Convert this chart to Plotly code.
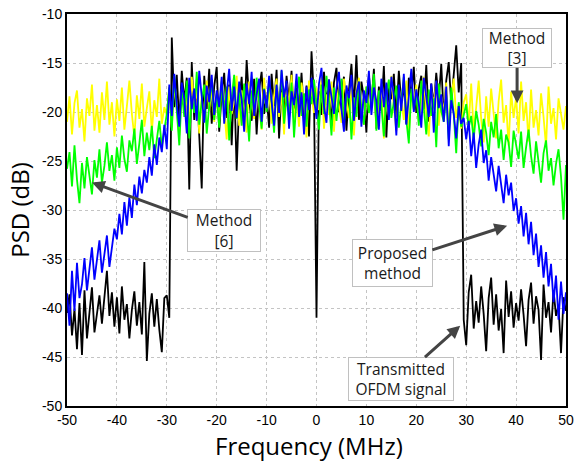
import plotly.graph_objects as go

freq = [round(-50 + 0.5 * i, 1) for i in range(201)]

tx_psd = [
    -40.5, -38.6, -42.8, -40.1, -44.2, -39.5, -44.8, -38.2, -43.1, -40.6,
    -37.9, -42.5, -40.3, -38.7, -41.6, -39.2, -36.2, -40.8, -38.4, -41.9,
    -38.9, -42.6, -37.8, -41.2, -39.6, -43.1, -40.2, -38.3, -41.8, -39.4,
    -42.7, -35.3, -45.4, -40.6, -38.5, -41.9, -39.1, -42.2, -44.5, -39.0,
    -38.7, -41.0,
    -12.4, -19.5, -16.2, -21.3, -15.8, -18.9, -16.5, -27.9, -14.9, -20.8,
    -17.1, -22.4, -27.8, -16.3, -19.7, -15.6, -21.2, -17.4, -15.4, -22.0,
    -18.1, -16.0, -20.6, -17.2, -23.4, -16.8, -26.0, -19.0, -16.4, -21.5,
    -14.7, -18.8, -20.9, -16.6, -22.3, -17.7, -15.9, -20.2, -18.3, -21.6,
    -16.1, -19.4, -15.7, -22.7, -17.6, -20.4, -16.3, -18.9, -15.8, -21.1,
    -17.5, -19.8, -16.0, -20.7, -17.3, -22.5, -13.8, -18.6, -41.0, -17.9,
    -20.3, -15.9, -19.2, -16.7, -21.4, -17.0, -15.5, -20.0, -18.2, -16.4,
    -21.9, -17.8, -15.1, -19.6, -14.2, -20.8, -16.9, -18.5, -22.1, -16.2,
    -19.3, -15.6, -21.7, -17.4, -19.9, -15.3, -22.6, -17.0, -18.7, -16.1,
    -20.5, -15.8, -19.1, -17.3, -21.2, -16.5, -18.4, -15.4, -20.1, -17.6,
    -16.3, -19.7, -15.2, -21.0, -17.1, -19.4, -16.0, -18.8, -15.1, -20.6,
    -16.8, -14.9, -19.2, -16.3, -13.2, -18.0, -15.0,
    -41.2, -43.8, -38.4, -36.6, -42.1, -39.3, -41.5, -37.8, -40.6, -44.4,
    -39.0, -36.9, -41.7, -38.6, -42.3, -40.1, -44.6, -37.2, -40.9, -38.3,
    -42.0, -39.5, -41.3, -38.1, -40.7, -43.9, -39.2, -37.4, -41.6, -38.8,
    -40.2, -45.3, -37.6, -41.0, -39.4, -42.5, -38.2, -40.8, -39.7, -44.6,
    -38.9, -40.3,
]

method3_psd = [
    -21.0, -18.4, -22.3, -19.1, -17.8, -21.6, -19.7, -23.0, -18.6, -20.4,
    -17.2, -21.9, -19.3, -22.1, -18.0, -20.8, -16.9, -21.3, -19.0, -22.5,
    -18.7, -20.9, -17.5, -21.8, -19.4, -16.8, -20.2, -22.6, -18.3, -20.7,
    -17.1, -21.5, -19.6, -17.9, -22.0, -18.8, -20.5, -16.6, -21.2, -19.5,
    -20.3, -17.4, -21.6, -16.9, -19.8, -22.4, -17.6, -20.1, -18.2, -21.9,
    -16.4, -19.3, -17.7, -22.2, -18.5, -20.6, -16.8, -19.9, -17.3, -21.0,
    -18.1, -20.8, -16.7, -19.5, -22.8, -17.4, -20.2, -18.9, -16.3, -21.4,
    -17.8, -19.6, -22.1, -16.9, -18.4, -20.7, -17.2, -19.1, -21.8, -16.5,
    -19.7, -17.6, -21.2, -18.3, -16.6, -20.5, -18.0, -22.3, -17.1, -19.4,
    -16.2, -20.9, -18.6, -21.5, -17.0, -19.0, -22.6, -16.8, -18.7, -20.1,
    -17.5, -19.8, -16.4, -21.7, -18.2, -20.3, -16.9, -22.0, -17.7, -19.2,
    -21.1, -16.6, -18.8, -20.6, -17.3, -22.4, -18.0, -16.5, -19.9, -21.3,
    -17.4, -20.0, -18.5, -16.7, -21.6, -19.0, -17.1, -22.7, -18.3, -20.4,
    -16.3, -19.5, -21.9, -17.6, -18.9, -20.8, -16.8, -22.2, -18.1, -19.7,
    -17.2, -21.0, -18.6, -16.4, -20.3, -22.5, -17.8, -19.3, -16.9, -21.4,
    -18.4, -20.1, -17.0, -22.1, -18.7, -16.6, -20.6, -19.2, -21.7, -19.0,
    -18.2, -21.3, -17.1, -22.0, -19.5, -16.8, -20.7, -23.1, -18.4, -21.5,
    -17.6, -20.2, -22.7, -18.9, -16.7, -21.1, -19.3, -23.4, -17.9, -20.6,
    -18.5, -22.2, -16.9, -20.9, -19.0, -23.0, -17.7, -21.6, -19.8, -22.4,
    -18.1, -20.5, -23.5, -17.4, -21.2, -19.6, -22.8, -18.6, -20.3, -21.8,
    -19.4,
]

method6_psd = [
    -25.8, -24.1, -27.6, -23.4, -26.9, -29.3, -25.2, -27.8, -24.6, -26.3,
    -28.4, -24.9, -26.7, -23.8, -27.2, -25.5, -23.1, -26.0, -24.4, -27.0,
    -23.6, -25.7, -22.4, -24.8, -26.1, -22.9, -24.0, -21.7, -25.3, -23.2,
    -20.8, -24.5, -22.1, -23.9, -21.4, -24.7, -22.6, -20.9, -23.5, -21.8,
    -20.2, -17.5, -21.9, -16.3, -19.6, -23.4, -17.9, -20.5, -16.8, -22.7,
    -18.4, -20.1, -15.9, -21.3, -18.9, -17.2, -22.2, -19.3, -16.6, -20.8,
    -18.2, -21.6, -16.9, -19.9, -17.4, -22.9, -18.6, -16.2, -20.7, -18.0,
    -21.4, -17.1, -19.5, -23.0, -17.8, -20.3, -16.5, -19.1, -21.7, -17.6,
    -20.0, -16.8, -18.9, -22.1, -17.3, -19.7, -15.8, -21.2, -18.4, -20.6,
    -17.0, -22.6, -18.7, -16.4, -20.4, -18.1, -21.5, -17.7, -19.2, -16.7,
    -19.4, -21.8, -17.2, -20.2, -16.3, -18.8, -22.4, -17.5, -20.9, -18.3,
    -16.6, -21.1, -19.0, -17.9, -22.8, -18.5, -20.5, -16.9, -19.6, -21.3,
    -17.4, -20.1, -18.7, -16.1, -21.9, -17.8, -19.3, -22.5, -18.2, -16.7,
    -20.6, -19.1, -17.3, -21.6, -18.9, -16.4, -20.8, -23.2, -17.6, -19.8,
    -18.0, -21.4, -16.8, -19.5, -22.3, -17.7, -20.4, -18.6, -23.6, -17.1,
    -19.9, -21.0, -18.3, -22.8, -17.5, -20.2, -24.2, -19.0, -21.5, -20.3,
    -19.2, -21.6, -20.4, -22.8, -19.9, -21.3, -23.5, -20.7, -22.1, -24.4,
    -21.0, -22.6, -20.2, -23.7, -21.8, -24.9, -22.3, -23.1, -25.6, -21.9,
    -23.4, -24.8, -22.0, -25.7, -23.6, -21.8, -24.5, -26.3, -23.0, -25.1,
    -27.2, -24.2, -22.9, -26.0, -24.7, -27.5, -25.3, -23.8, -26.6, -31.0,
    -25.4,
]

proposed_psd = [
    -38.5, -41.8, -36.2, -40.3, -35.4, -39.0, -37.6, -34.9, -38.2, -36.0,
    -33.8, -37.1, -35.2, -33.1, -36.4, -34.5, -32.6, -35.8, -33.7, -31.9,
    -33.0, -30.4, -32.5, -29.2, -31.6, -28.7, -30.8, -27.4, -29.5, -26.6,
    -28.3, -25.9, -27.2, -24.6, -26.5, -23.3, -25.4, -22.6, -24.1, -21.3,
    -23.8, -17.2, -20.4, -16.1, -19.3, -21.5, -17.0, -18.6, -22.2, -16.5,
    -19.7, -17.6, -20.9, -15.8, -18.4, -21.1, -17.3, -19.0, -16.2, -20.3,
    -17.8, -19.5, -16.4, -21.2, -18.1, -15.6, -19.9, -17.4, -20.6, -16.9,
    -18.7, -22.0, -17.1, -19.2, -15.9, -20.4, -18.2, -16.6, -21.0, -17.7,
    -19.6, -16.3, -18.9, -21.4, -17.2, -20.1, -15.7, -18.5, -16.8, -21.7,
    -17.9, -19.3, -16.1, -20.5, -18.0, -22.3, -17.4, -19.8, -16.5, -18.8,
    -20.7, -17.1, -15.5, -19.4, -21.1, -16.7, -18.3, -20.2, -17.6, -15.9,
    -19.7, -22.0, -17.3, -18.6, -16.2, -20.9, -18.1, -16.9, -21.5, -17.8,
    -19.1, -15.8, -20.3, -17.5, -18.9, -21.8, -16.6, -19.5, -17.0, -20.8,
    -16.4, -18.4, -22.4, -17.2, -19.9, -16.1, -21.3, -18.0, -15.6, -20.0,
    -17.7, -19.2, -21.6, -16.5, -18.6, -20.5, -17.1, -22.1, -16.8, -19.6,
    -18.2, -21.0, -17.4, -23.5, -18.8, -20.2, -22.7, -19.4, -21.2, -20.6,
    -22.8, -20.9, -24.5, -22.1, -25.7, -23.3, -21.8, -25.2, -23.9, -27.0,
    -24.6, -26.3, -28.1, -25.5, -27.6, -29.3, -26.4, -28.5, -27.2, -30.1,
    -28.8, -31.4, -29.6, -32.7, -30.3, -33.5, -31.2, -34.6, -32.4, -35.8,
    -33.6, -36.9, -34.3, -37.8, -35.5, -39.4, -36.7, -41.2, -37.3, -40.6,
    -38.4,
]

x_ticks = [-50, -40, -30, -20, -10, 0, 10, 20, 30, 40, 50]
y_ticks = [-50, -45, -40, -35, -30, -25, -20, -15, -10]

series = [
    ("Transmitted OFDM signal", tx_psd, "#000000"),
    ("Method [3]", method3_psd, "#ffff00"),
    ("Method [6]", method6_psd, "#00ff00"),
    ("Proposed method", proposed_psd, "#0000ff"),
]

fig = go.Figure()
for name, vals, col in series:
    fig.add_trace(go.Scatter(x=freq, y=vals, mode="lines", name=name,
                             line=dict(color=col, width=1.8), showlegend=False))

ann_font = dict(family="Open Sans, Noto Sans, sans-serif", size=15.5, color="#1a1a1a")
ann_common = dict(xref="x", yref="y", axref="x", ayref="y", showarrow=True,
                  arrowhead=2, arrowsize=0.85, arrowwidth=3, arrowcolor="#444444",
                  bgcolor="white", bordercolor="#c0c0c0", borderwidth=1, borderpad=1,
                  font=ann_font, align="center", valign="middle")

# (text, head x, head y, box-centre x, box-centre y, box w, box h)
notes = [
    ("Method<br>[3]", 40.2, -19.1, 40.2, -13.5, 70, 40),
    ("Method<br>[6]", -45.0, -27.2, -18.5, -32.1, 74, 43),
    ("Proposed<br>method", 38.2, -31.6, 15.2, -35.4, 81, 48),
    ("Transmitted<br>OFDM signal", 28.8, -41.8, 16.9, -47.2, 106, 44),
]
for txt, hx, hy, bx, by, bw, bh in notes:
    fig.add_annotation(text=txt, x=hx, y=hy, ax=bx, ay=by,
                       width=bw - 4, height=bh - 4, **ann_common)

# x-axis title placed as paper text so it can sit lower than the margin allows
fig.add_annotation(text="Frequency (MHz)", xref="paper", yref="paper",
                   x=0.485, y=-0.102, xanchor="center", yanchor="middle", showarrow=False,
                   font=dict(family="Open Sans, sans-serif", size=24, color="black"))

axis_common = dict(showgrid=True, gridcolor="#c4c4c4", griddash="dot", gridwidth=1,
                   showline=True, linecolor="black", linewidth=2, mirror=True,
                   ticks="", zeroline=False, automargin=False,
                   tickfont=dict(family="Liberation Sans, Arial, sans-serif", size=14, color="black"))

fig.update_xaxes(range=[-50, 50], tickvals=x_ticks, ticktext=[str(v) for v in x_ticks],
                 **axis_common)
fig.update_yaxes(range=[-50, -10], tickvals=y_ticks, ticktext=[str(v) for v in y_ticks],
                 title=dict(text="PSD (dB)", standoff=6,
                            font=dict(family="Open Sans, sans-serif", size=24, color="black")),
                 **axis_common)

fig.update_layout(width=574, height=461, margin=dict(l=67, r=8, t=14, b=55, autoexpand=False),
                  plot_bgcolor="white", paper_bgcolor="white")

fig.write_html("out.html", config={"displayModeBar": False},
               post_script="document.body.style.margin='0px';document.body.style.overflow='hidden';")
